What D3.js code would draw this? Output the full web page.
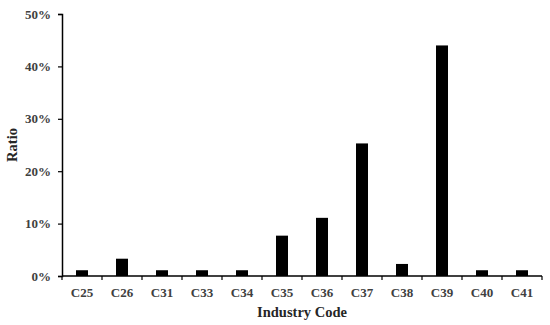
<!DOCTYPE html>
<html>
<head>
<meta charset="utf-8">
<script src="https://cdnjs.cloudflare.com/ajax/libs/d3/7.8.5/d3.min.js"></script>
<style>
  body { margin: 0; background: #fff; }
  svg text { font-family: "Liberation Serif", "Times New Roman", serif; font-weight: bold; }
</style>
</head>
<body>
<div id="chart"></div>
<script>
var categories = ["C25", "C26", "C31", "C33", "C34", "C35", "C36", "C37", "C38", "C39", "C40", "C41"];
var ratios = [0.011, 0.033, 0.011, 0.011, 0.011, 0.077, 0.111, 0.253, 0.023, 0.440, 0.011, 0.011];
var yTicks = [0, 0.1, 0.2, 0.3, 0.4, 0.5];

var width = 550, height = 325;
var margin = { top: 14, right: 8, bottom: 49, left: 62 };

var svg = d3.select("#chart")
    .append("svg")
    .attr("width", width)
    .attr("height", height);

var x = d3.scaleBand()
    .domain(categories)
    .range([margin.left, width - margin.right])
    .paddingInner(0.7)
    .paddingOuter(0.35);

var y = d3.scaleLinear()
    .domain([0, 0.5])
    .range([height - margin.bottom, margin.top]);

// bars
svg.append("g")
    .selectAll("rect")
    .data(ratios).enter()
    .append("rect")
        .attr("x", function (d, i) { return x(categories[i]); })
        .attr("width", x.bandwidth())
        .attr("y", function (d) { return y(d); })
        .attr("height", function (d) { return y(0) - y(d); })
        .style("fill", "#000");

// y axis
var yAxis = svg.append("g")
    .attr("transform", "translate(" + margin.left + ",0)")
    .call(d3.axisLeft(y).tickValues(yTicks).tickFormat(d3.format(".0%")).tickSize(4).tickPadding(7));

// x axis: ticks sit on band edges
var edges = categories.map(function (c) { return x(c) - x.step() * x.paddingInner() / 2; });
edges.push(width - margin.right);

var xAxis = svg.append("g")
    .attr("transform", "translate(0," + y(0) + ")");
xAxis.append("line")
    .attr("x1", margin.left).attr("x2", width - margin.right)
    .attr("stroke", "#000").attr("stroke-width", 1.5);
xAxis.selectAll(".edge")
    .data(edges).enter()
    .append("line")
        .attr("class", "edge")
        .attr("x1", function (d) { return d; })
        .attr("x2", function (d) { return d; })
        .attr("y1", 0).attr("y2", 4)
        .attr("stroke", "#000").attr("stroke-width", 1.2);
xAxis.selectAll(".lbl")
    .data(categories).enter()
    .append("text")
        .attr("class", "lbl")
        .attr("x", function (d) { return x(d) + x.bandwidth() / 2; })
        .attr("y", 21)
        .attr("text-anchor", "middle")
        .style("font-size", "13px")
        .style("fill", "#404040")
        .text(function (d) { return d; });

yAxis.select(".domain").attr("stroke", "#000").attr("stroke-width", 1.5);
yAxis.selectAll(".tick line").attr("stroke", "#000").attr("stroke-width", 1.2);
yAxis.selectAll(".tick text")
    .style("font-size", "13px")
    .style("fill", "#404040");

// axis titles
svg.append("text")
    .attr("x", (margin.left + width - margin.right) / 2)
    .attr("y", 317)
    .attr("text-anchor", "middle")
    .style("font-size", "14.5px")
    .style("fill", "#262626")
    .text("Industry Code");

svg.append("text")
    .attr("transform", "translate(17," + (margin.top + (height - margin.bottom)) / 2 + ") rotate(-90)")
    .attr("text-anchor", "middle")
    .style("font-size", "14.5px")
    .style("fill", "#262626")
    .text("Ratio");
</script>
</body>
</html>
